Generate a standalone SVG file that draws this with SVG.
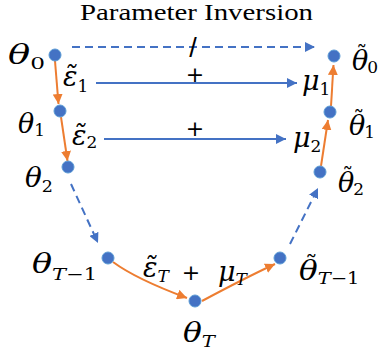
<svg xmlns="http://www.w3.org/2000/svg" width="384" height="358" viewBox="0 0 384 358">
<style>
.title{font-family:"Liberation Serif",serif;font-size:24px;fill:#000}
.m{font-family:"DejaVu Serif",serif;font-style:italic;font-size:27px;fill:#000}
.s{font-family:"DejaVu Serif",serif;font-style:normal;font-size:17px}
.si{font-family:"DejaVu Serif",serif;font-style:italic;font-size:17px}
.t{font-family:"DejaVu Serif",serif;font-style:normal;font-size:22px}
.op{font-family:"DejaVu Sans",sans-serif;font-size:22px;fill:#000;text-anchor:middle}
.sl{font-family:"Liberation Sans",sans-serif;font-size:27px;fill:#000;text-anchor:middle}
.dot{fill:#4472C4;stroke:#5B9BD5;stroke-width:1}
.or{fill:none;stroke:#ED7D31;stroke-width:2;marker-end:url(#ao)}
.bl{fill:none;stroke:#4472C4;stroke-width:2;marker-end:url(#ab)}
.bd{fill:none;stroke:#4472C4;stroke-width:2;stroke-dasharray:8 5;marker-end:url(#ab)}
</style>
<defs>
<marker id="ao" viewBox="0 0 10 10" refX="10" refY="5" markerWidth="10" markerHeight="10" markerUnits="userSpaceOnUse" orient="auto"><path d="M0,0 L10,5 L0,10 z" fill="#ED7D31"/></marker>
<marker id="ab" viewBox="0 0 10 10" refX="10" refY="5" markerWidth="10" markerHeight="10" markerUnits="userSpaceOnUse" orient="auto"><path d="M0,0 L10,5 L0,10 z" fill="#4472C4"/></marker>
</defs>
<text class="title" x="80" y="20" textLength="233" lengthAdjust="spacingAndGlyphs">Parameter Inversion</text>
<g id="connectors">
<path class="bd" d="M72,47 L315,47"/>
<path class="bl" d="M96,83 L297,83"/>
<path class="bl" d="M104,139 L286,139"/>
<path class="or" d="M55,61 L58.5,104"/>
<path class="or" d="M61,117 L67.5,161"/>
<path class="bd" d="M71,184 L98,243"/>
<path class="or" d="M113,262 Q136,279 187,298"/>
<path class="or" d="M202,301 Q245,278 275,264"/>
<path class="bd" d="M290,244 L318,188"/>
<path class="or" d="M321,166 L328,120"/>
<path class="or" d="M331,106 L333.5,65"/>
</g>
<g id="ops">
<text class="sl" x="193" y="57">/</text>
<text class="op" x="195" y="82">+</text>
<text class="op" x="195" y="136">+</text>
<text class="op" x="191" y="280">+</text>
</g>
<g id="theta0"><circle class="dot" cx="55" cy="55" r="6"/><text class="m" x="8" y="64" textLength="37" lengthAdjust="spacingAndGlyphs">θ<tspan class="s" dy="5">0</tspan></text></g>
<g id="theta1"><circle class="dot" cx="60" cy="111" r="6"/><text class="m" x="18" y="133" textLength="27" lengthAdjust="spacingAndGlyphs">θ<tspan class="s" dy="3">1</tspan></text></g>
<g id="theta2"><circle class="dot" cx="68" cy="167" r="6"/><text class="m" x="25" y="187" textLength="28" lengthAdjust="spacingAndGlyphs">θ<tspan class="s" dy="5">2</tspan></text></g>
<g id="thetaT1"><circle class="dot" cx="108" cy="258" r="6"/><text class="m" x="32" y="273" textLength="65" lengthAdjust="spacingAndGlyphs">θ<tspan class="si" dy="7">T</tspan><tspan class="s">−1</tspan></text></g>
<g id="thetaT"><circle class="dot" cx="195" cy="301" r="6"/><text class="m" x="183" y="342" textLength="32" lengthAdjust="spacingAndGlyphs">θ<tspan class="si" dy="5">T</tspan></text></g>
<g id="ttheta0"><circle class="dot" cx="334" cy="56" r="6"/><text class="m" x="352" y="70">θ<tspan class="t" dx="-12" dy="-8">˜</tspan><tspan class="s" dy="11">0</tspan></text></g>
<g id="ttheta1"><circle class="dot" cx="330" cy="112" r="6"/><text class="m" x="349" y="135">θ<tspan class="t" dx="-12" dy="-8">˜</tspan><tspan class="s" dy="11">1</tspan></text></g>
<g id="ttheta2"><circle class="dot" cx="320" cy="172" r="6"/><text class="m" x="338" y="192">θ<tspan class="t" dx="-12" dy="-8">˜</tspan><tspan class="s" dy="11">2</tspan></text></g>
<g id="tthetaT1"><circle class="dot" cx="280" cy="258" r="6"/><text class="m" transform="translate(299,280) scale(1.15,1)">θ<tspan class="t" dx="-11" dy="-8">˜</tspan><tspan class="si" dy="12">T</tspan><tspan class="s">−1</tspan></text></g>
<g id="labels">
<text class="m" x="63" y="86">ε̃<tspan class="s" dy="6">1</tspan></text>
<text class="m" x="72" y="145">ε̃<tspan class="s" dy="3">2</tspan></text>
<text class="m" x="143" y="277">ε̃<tspan class="si" dy="5">T</tspan></text>
<text class="m" x="302" y="90">μ<tspan class="s" dy="5">1</tspan></text>
<text class="m" x="293" y="147">μ<tspan class="s" dy="5">2</tspan></text>
<text class="m" x="218" y="281">μ<tspan class="si" dy="4">T</tspan></text>
</g>
</svg>
